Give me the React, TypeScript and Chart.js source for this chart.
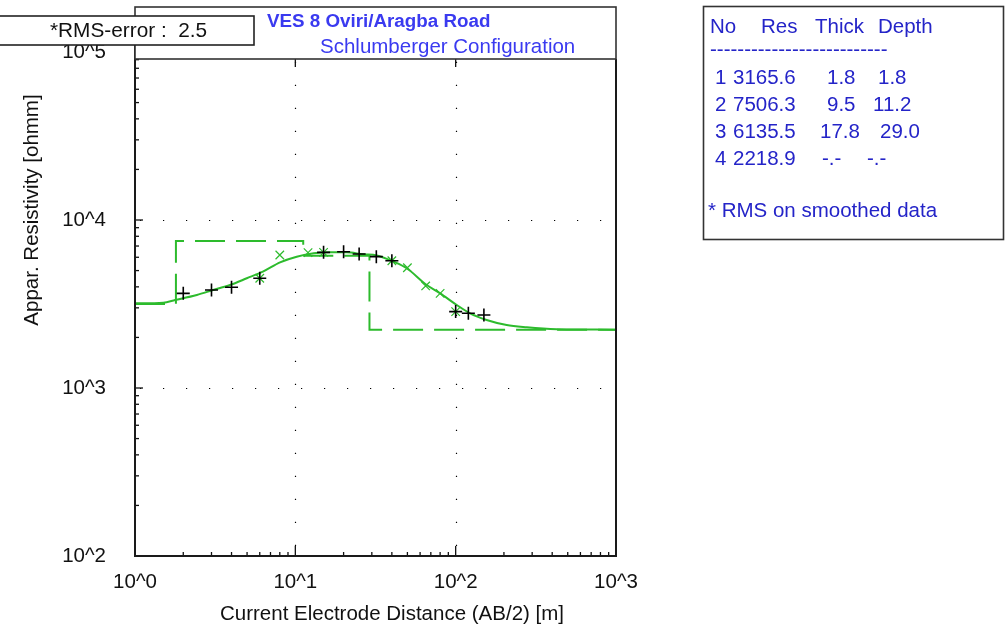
import React, { useEffect, useRef } from 'react';
import { Chart, registerables } from 'chart.js';
Chart.register(...registerables);

// ---------- data ----------
const fieldAB = [2, 3, 4, 6, 15, 20, 25, 32, 40, 100, 120, 150];
const fieldRes = [3660, 3830, 3975, 4500, 6420, 6470, 6280, 6050, 5720, 2850, 2785, 2720];

const smoothAB = [6, 8, 12, 15, 40, 50, 65, 80, 100];
const smoothRes = [4500, 6190, 6390, 6420, 5720, 5200, 4050, 3660, 2850];

const curveAB = [1, 1.5, 1.78, 2.43, 3.07, 3.91, 4.98, 6.32, 8.03, 10.2, 13, 16.5, 20.9, 26.4, 32.2, 40.9, 49.5, 66, 80, 101.6, 123, 156, 208, 278, 428, 689, 1000];
const curveRes = [3190, 3220, 3340, 3580, 3830, 4100, 4500, 4950, 5600, 6050, 6340, 6420, 6420, 6250, 6150, 5650, 5160, 4100, 3660, 3120, 2780, 2540, 2370, 2300, 2240, 2228, 2220];

const layerNo = ['1', '2', '3', '4'];
const layerRes = [3165.6, 7506.3, 6135.5, 2218.9];
const layerThick = [1.8, 9.5, 17.8];
const layerDepth = [1.8, 11.2, 29.0];

const xTickValues = [1, 10, 100, 1000];
const xTickLabels = ['10^0', '10^1', '10^2', '10^3'];
const yTickValues = [100, 1000, 10000, 100000];
const yTickLabels = ['10^2', '10^3', '10^4', '10^5'];

const titleLine1 = 'VES 8 Oviri/Aragba Road';
const titleLine2 = 'Schlumberger Configuration';
const rmsText = '*RMS-error :  2.5';
const xTitle = 'Current Electrode Distance (AB/2) [m]';
const yTitle = 'Appar. Resistivity [ohmm]';
const legendHeader = ['No', 'Res', 'Thick', 'Depth'];
const legendDashes = '--------------------------';
const legendNote = '* RMS on smoothed data';

// ---------- style ----------
const GREEN = '#2dbb2d';
const FONT = '"Liberation Sans", Arial, sans-serif';
const LEG_BLUE = '#2424c8';
const TITLE_BLUE = '#3a3af0';
const FS = 20.5;

export default function App() {
  const ref = useRef<HTMLCanvasElement>(null);

  useEffect(() => {
    const canvas = ref.current!;
    const minX = xTickValues[0];
    const maxX = xTickValues[xTickValues.length - 1];

    // step model line from layer table
    const stepPts: { x: number; y: number }[] = [];
    let left = minX;
    layerRes.forEach((r, i) => {
      const right = i < layerDepth.length ? layerDepth[i] : maxX;
      stepPts.push({ x: left, y: r });
      stepPts.push({ x: right, y: r });
      left = right;
    });

    const decor = {
      id: 'decor',
      beforeDatasetsDraw(chart: any) {
        const ctx = chart.ctx as CanvasRenderingContext2D;
        const xs = chart.scales.x;
        const ys = chart.scales.y;
        const a = chart.chartArea;
        ctx.save();
        // dotted grid at inner decades
        ctx.strokeStyle = '#000';
        ctx.lineWidth = 1.2;
        ctx.setLineDash([1.2, 21.8]);
        xTickValues.slice(1, -1).forEach((v) => {
          const px = Math.round(xs.getPixelForValue(v)) + 0.5;
          ctx.beginPath();
          ctx.moveTo(px, a.bottom - 10);
          ctx.lineTo(px, 60);
          ctx.stroke();
        });
        yTickValues.slice(1, -1).forEach((v) => {
          const py = Math.round(ys.getPixelForValue(v)) + 0.5;
          ctx.beginPath();
          ctx.moveTo(a.left + 5, py);
          ctx.lineTo(a.right, py);
          ctx.stroke();
        });
        ctx.setLineDash([]);

        // ticks
        ctx.lineWidth = 1.3;
        ctx.strokeStyle = '#111';
        for (let d = 0; d < yTickValues.length; d++) {
          const base = yTickValues[d];
          const py = ys.getPixelForValue(base);
          ctx.beginPath();
          ctx.moveTo(a.left, py);
          ctx.lineTo(a.left + 8, py);
          ctx.stroke();
          if (d < yTickValues.length - 1) {
            for (let k = 2; k <= 9; k++) {
              const p = ys.getPixelForValue(base * k);
              ctx.beginPath();
              ctx.moveTo(a.left, p);
              ctx.lineTo(a.left + 4, p);
              ctx.stroke();
            }
          }
        }
        for (let d = 0; d < xTickValues.length; d++) {
          const base = xTickValues[d];
          const px = xs.getPixelForValue(base);
          ctx.beginPath();
          ctx.moveTo(px, a.bottom);
          ctx.lineTo(px, a.bottom - 10);
          ctx.stroke();
          ctx.beginPath();
          ctx.moveTo(px, 59);
          ctx.lineTo(px, 67);
          ctx.stroke();
          if (d < xTickValues.length - 1) {
            for (let k = 2; k <= 9; k++) {
              const p = xs.getPixelForValue(base * k);
              ctx.beginPath();
              ctx.moveTo(p, a.bottom);
              ctx.lineTo(p, a.bottom - 4);
              ctx.stroke();
            }
          }
        }
        ctx.restore();
      },
      afterDraw(chart: any) {
        const ctx = chart.ctx as CanvasRenderingContext2D;
        const xs = chart.scales.x;
        const ys = chart.scales.y;
        const a = chart.chartArea;
        ctx.save();
        // axes/frame
        ctx.strokeStyle = '#1a1a1a';
        ctx.lineWidth = 2;
        ctx.beginPath();
        ctx.moveTo(a.left, 45);
        ctx.lineTo(a.left, a.bottom);
        ctx.lineTo(a.right, a.bottom);
        ctx.lineTo(a.right, 59);
        ctx.stroke();

        // title box
        ctx.fillStyle = '#fff';
        ctx.fillRect(a.left, 7, a.right - a.left, 52);
        ctx.lineWidth = 1.6;
        ctx.strokeStyle = '#333';
        ctx.strokeRect(a.left, 7, a.right - a.left, 52);
        ctx.textBaseline = 'middle';
        ctx.textAlign = 'left';
        ctx.fillStyle = TITLE_BLUE;
        ctx.font = `bold 18.8px ${FONT}`;
        ctx.fillText(titleLine1, 267, 22);
        ctx.font = `${FS}px ${FONT}`;
        ctx.fillText(titleLine2, 320, 47);

        // y tick labels
        ctx.fillStyle = '#111';
        ctx.font = `${FS}px ${FONT}`;
        ctx.textAlign = 'right';
        yTickValues.forEach((v, i) => {
          ctx.fillText(yTickLabels[i], 106, ys.getPixelForValue(v));
        });
        // x tick labels
        ctx.textAlign = 'center';
        xTickValues.forEach((v, i) => {
          ctx.fillText(xTickLabels[i], xs.getPixelForValue(v), 582);
        });
        // axis titles
        ctx.fillText(xTitle, 392, 614);
        ctx.save();
        ctx.translate(32, 210);
        ctx.rotate(-Math.PI / 2);
        ctx.fillText(yTitle, 0, 0);
        ctx.restore();

        // RMS box
        ctx.fillStyle = '#fff';
        ctx.fillRect(-2, 16, 256, 29);
        ctx.strokeStyle = '#222';
        ctx.lineWidth = 1.6;
        ctx.strokeRect(-2, 16, 256, 29);
        ctx.fillStyle = '#111';
        ctx.textAlign = 'left';
        ctx.font = `20.8px ${FONT}`;
        ctx.fillText(rmsText, 50, 31);

        // legend box
        ctx.strokeStyle = '#333';
        ctx.lineWidth = 1.6;
        ctx.strokeRect(703.5, 6.5, 300, 233);
        ctx.fillStyle = LEG_BLUE;
        ctx.font = `${FS}px ${FONT}`;
        const headX = [710, 761, 815, 878];
        legendHeader.forEach((h, i) => ctx.fillText(h, headX[i], 27));
        ctx.fillText(legendDashes, 710, 50);
        const rowY = [78, 105, 132, 159];
        const rowX = [
          [715, 733, 827, 878],
          [715, 733, 827, 873],
          [715, 733, 820, 880],
          [715, 733, 822, 867],
        ];
        layerNo.forEach((no, i) => {
          const cells = [
            no,
            layerRes[i].toFixed(1),
            i < layerThick.length ? layerThick[i].toFixed(1) : '-.-',
            i < layerDepth.length ? layerDepth[i].toFixed(1) : '-.-',
          ];
          cells.forEach((c, j) => ctx.fillText(c, rowX[i][j], rowY[i]));
        });
        ctx.fillText(legendNote, 708, 211);
        ctx.restore();
      },
    };

    const chart = new Chart(canvas, {
      type: 'scatter',
      data: {
        datasets: [
          {
            label: 'field',
            data: fieldAB.map((x, i) => ({ x, y: fieldRes[i] })),
            pointStyle: 'cross',
            pointRadius: 6.5,
            borderColor: '#000',
            backgroundColor: '#000',
            pointBorderWidth: 1.6,
            showLine: false,
            order: 0,
          } as any,
          {
            label: 'smoothed',
            data: smoothAB.map((x, i) => ({ x, y: smoothRes[i] })),
            pointStyle: 'crossRot',
            pointRadius: 6,
            borderColor: GREEN,
            backgroundColor: GREEN,
            pointBorderWidth: 1.2,
            showLine: false,
            order: 1,
          } as any,
          {
            label: 'curve',
            data: curveAB.map((x, i) => ({ x, y: curveRes[i] })),
            showLine: true,
            borderColor: GREEN,
            borderWidth: 2,
            pointRadius: 0,
            cubicInterpolationMode: 'monotone',
            order: 2,
          } as any,
          {
            label: 'model',
            data: stepPts,
            showLine: true,
            borderColor: GREEN,
            borderWidth: 2,
            borderDash: [30, 11],
            pointRadius: 0,
            tension: 0,
            order: 3,
          } as any,
        ],
      },
      options: {
        animation: false,
        responsive: false,
        layout: { padding: { left: 135, right: 390, top: 52, bottom: 86 } },
        scales: {
          x: { type: 'logarithmic', min: 1, max: 1000, display: false },
          y: { type: 'logarithmic', min: 100, max: 100000, display: false },
        },
        plugins: { legend: { display: false }, tooltip: { enabled: false } },
      },
      plugins: [decor],
    });
    return () => chart.destroy();
  }, []);

  return (
    <div style={{ position: 'fixed', left: 0, top: 0, width: 1006, height: 642, background: '#fff' }}>
      <canvas ref={ref} width={1006} height={642} style={{ display: 'block' }} />
    </div>
  );
}
